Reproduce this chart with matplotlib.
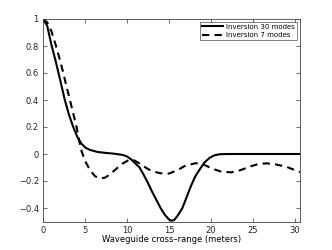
import matplotlib
matplotlib.use('Agg')
import matplotlib.pyplot as plt

# значения
x_30 = [0, 0.5, 1.0, 1.5, 2.0, 2.6, 3.1, 3.6, 4.1, 4.6, 5.1, 5.6, 6.5, 7.5, 8.5, 9.5,
        10.0, 10.5, 11.0, 11.5, 12.0, 12.5, 13.0, 13.5, 14.0, 14.5, 15.0, 15.3, 15.6,
        16.0, 16.6, 17.1, 17.6, 18.1, 18.6, 19.2, 19.8, 20.4, 21.0, 22.0, 24.0, 26.0,
        28.0, 30.6]
y_30 = [1, 0.95, 0.81, 0.69, 0.56, 0.40, 0.29, 0.20, 0.125, 0.075, 0.045, 0.03, 0.015,
        0.008, 0.002, -0.007, -0.018, -0.04, -0.07, -0.10, -0.155, -0.215, -0.28, -0.34,
        -0.40, -0.45, -0.485, -0.494, -0.49, -0.46, -0.40, -0.32, -0.24, -0.17, -0.12,
        -0.065, -0.03, -0.01, -0.002, 0, 0, 0, 0, 0]

x_7 = [0, 0.5, 1.0, 1.55, 2.0, 2.42, 2.8, 3.21, 3.6, 4.0, 4.3, 4.6, 5.0, 5.6, 6.2, 6.8,
       7.4, 8.0, 8.8, 9.5, 10.2, 10.8, 11.5, 12.2, 13.0, 14.0, 15.0, 16.0, 17.0, 18.2,
       19.2, 20.2, 21.2, 22.4, 23.5, 24.6, 25.6, 26.6, 27.8, 29.0, 30.6]
y_7 = [1, 0.975, 0.91, 0.8, 0.70, 0.6, 0.50, 0.4, 0.3, 0.2, 0.1, 0.02, -0.05, -0.12,
       -0.165, -0.18, -0.175, -0.15, -0.106, -0.07, -0.045, -0.045, -0.07, -0.10, -0.128,
       -0.143, -0.145, -0.12, -0.085, -0.068, -0.08, -0.11, -0.13, -0.136, -0.12, -0.094,
       -0.075, -0.069, -0.078, -0.095, -0.134]

x_ticks = [0, 5, 10, 15, 20, 25, 30]
y_ticks = [-0.4, -0.2, 0, 0.2, 0.4, 0.6, 0.8, 1]
y_labels = ['\u22120.4', '\u22120.2', '0', '0.2', '0.4', '0.6', '0.8', '1']

fig = plt.figure(figsize=(3.32, 2.5), dpi=100)
ax = fig.add_axes([0.1295, 0.114, 0.774, 0.81])

ax.plot(x_30, y_30, color='black', lw=1.5, label='Inversion 30 modes')
ax.plot(x_7, y_7, color='black', lw=1.5, ls=(0, (3.5, 2.5)), label='Inversion 7 modes')

ax.set_xlim(0, 30.6)
ax.set_ylim(-0.5, 1)
ax.set_xticks(x_ticks)
ax.set_yticks(y_ticks)
ax.set_yticklabels(y_labels)
ax.tick_params(direction='in', length=3, width=0.5, labelsize=6, top=True, right=True,
               pad=3, colors='#333333', labelcolor='#222222')
for s in ax.spines.values():
    s.set_linewidth(0.6)
    s.set_color('#444444')
ax.set_xlabel('Waveguide cross\u2013range (meters)', fontsize=6, labelpad=0)

leg = ax.legend(loc='upper right', fontsize=5, frameon=True, fancybox=False,
                borderaxespad=0.4, handlelength=3.0, borderpad=0.3, labelspacing=0.3,
                handletextpad=0.5)
leg.get_frame().set_edgecolor('#444444')
leg.get_frame().set_linewidth(0.6)

fig.savefig('out.png', dpi=100)
